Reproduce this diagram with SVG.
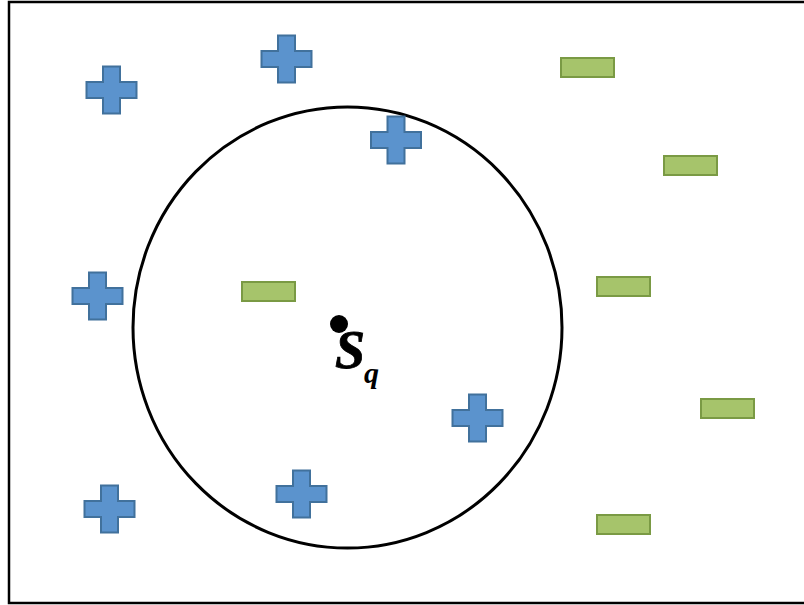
<svg xmlns="http://www.w3.org/2000/svg" width="804" height="605" viewBox="0 0 804 605">
<defs>
<style>
.plus{fill:#5B93CD;stroke:#41719C;stroke-width:2;stroke-linejoin:miter}
.minus{fill:#A6C46B;stroke:#7A9A44;stroke-width:2}
.lbl{font-family:"Liberation Serif",serif;font-weight:bold;font-style:italic;fill:#000}
</style>
<path id="p" d="M-8.5,-23.5 H8.5 V-8 H25 V8 H8.5 V23.5 H-8.5 V8 H-25 V-8 H-8.5 Z"/>
</defs>
<rect x="0" y="0" width="804" height="605" fill="#fff"/>
<rect x="9" y="2" width="800" height="601" fill="none" stroke="#000" stroke-width="2.5"/>
<g id="circle"><ellipse cx="347.5" cy="327.5" rx="214.5" ry="220.5" fill="none" stroke="#000" stroke-width="3"/></g>
<g id="plus1"><use href="#p" class="plus" transform="translate(111.5,90)"/></g>
<g id="plus2"><use href="#p" class="plus" transform="translate(286.5,59)"/></g>
<g id="plus3"><use href="#p" class="plus" transform="translate(396,140)"/></g>
<g id="plus4"><use href="#p" class="plus" transform="translate(97.5,296)"/></g>
<g id="plus5"><use href="#p" class="plus" transform="translate(477.5,418)"/></g>
<g id="plus6"><use href="#p" class="plus" transform="translate(301.5,494)"/></g>
<g id="plus7"><use href="#p" class="plus" transform="translate(109.5,509)"/></g>
<g id="minus1"><rect class="minus" x="561" y="58" width="53" height="19"/></g>
<g id="minus2"><rect class="minus" x="664" y="156" width="53" height="19"/></g>
<g id="minus3"><rect class="minus" x="242" y="282" width="53" height="19"/></g>
<g id="minus4"><rect class="minus" x="597" y="277" width="53" height="19"/></g>
<g id="minus5"><rect class="minus" x="701" y="399" width="53" height="19"/></g>
<g id="minus6"><rect class="minus" x="597" y="515" width="53" height="19"/></g>
<g id="sq">
<circle cx="339" cy="324" r="9" fill="#000"/>
<text class="lbl" x="335" y="368" font-size="54" stroke="#000" stroke-width="0.8">S</text>
<text class="lbl" x="364" y="383" font-size="30">q</text>
</g>
</svg>
